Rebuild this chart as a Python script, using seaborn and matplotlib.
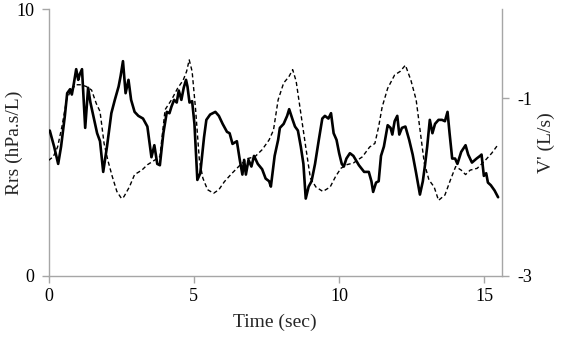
import matplotlib
matplotlib.use("Agg")
import matplotlib.pyplot as plt
import seaborn as sns
import pandas as pd

# Rrs (solid) series
rrs_time = [0.04, 0.19, 0.33, 0.43, 0.56, 0.64, 0.74, 0.80, 0.86, 0.95, 1.02, 1.07, 1.15, 1.26, 1.36,
            1.44, 1.57, 1.67, 1.77, 1.88, 2.01, 2.16, 2.28, 2.41, 2.48, 2.56, 2.65, 2.75, 2.84, 2.96,
            3.09, 3.25, 3.40, 3.49, 3.54, 3.64, 3.74, 3.83, 3.95, 4.07, 4.16, 4.23, 4.32, 4.41, 4.48,
            4.57, 4.65, 4.73, 4.78, 4.85, 4.94, 5.02, 5.12, 5.22, 5.35, 5.43, 5.56, 5.74, 5.86, 5.99,
            6.14, 6.23, 6.33, 6.48, 6.58, 6.67, 6.73, 6.79, 6.88, 6.98, 7.07, 7.20, 7.35, 7.47, 7.59,
            7.65, 7.78, 7.90, 7.96, 8.09, 8.21, 8.28, 8.40, 8.48, 8.58, 8.68, 8.77, 8.85, 8.95, 9.05,
            9.17, 9.30, 9.42, 9.51, 9.63, 9.72, 9.81, 9.91, 10.00, 10.09, 10.16, 10.25, 10.37, 10.49,
            10.68, 10.86, 11.02, 11.11, 11.17, 11.27, 11.36, 11.44, 11.54, 11.67, 11.77, 11.83, 11.91,
            12.00, 12.07, 12.16, 12.28, 12.41, 12.53, 12.65, 12.78, 12.88, 12.96, 13.03, 13.12, 13.21,
            13.30, 13.42, 13.54, 13.64, 13.73, 13.80, 13.89, 13.99, 14.07, 14.20, 14.35, 14.44, 14.57,
            14.73, 14.85, 14.90, 14.98, 15.06, 15.12, 15.22, 15.35, 15.47]
rrs_value = [5.45, 4.85, 4.20, 4.85, 6.00, 6.85, 7.00, 6.80, 7.15, 7.75, 7.35, 7.55, 7.75, 5.55, 7.05,
             6.50, 5.85, 5.35, 5.05, 3.90, 4.85, 6.10, 6.60, 7.10, 7.50, 8.05, 6.85, 7.35, 6.60, 6.15,
             6.00, 5.90, 5.60, 4.85, 4.45, 4.90, 4.20, 4.15, 5.35, 6.15, 6.10, 6.35, 6.60, 6.50, 6.95,
             6.60, 7.05, 7.35, 7.10, 6.50, 6.55, 5.70, 3.60, 3.85, 5.20, 5.85, 6.05, 6.15, 6.00, 5.70,
             5.40, 5.35, 4.95, 5.05, 4.35, 3.80, 4.35, 3.80, 4.35, 4.10, 4.50, 4.20, 4.00, 3.65, 3.55,
             3.35, 4.50, 5.10, 5.55, 5.70, 6.00, 6.25, 5.85, 5.60, 5.45, 4.85, 4.20, 2.90, 3.35, 3.55,
             4.20, 5.10, 5.90, 6.00, 5.90, 6.10, 5.35, 5.10, 4.60, 4.20, 4.10, 4.40, 4.60, 4.50,
             4.15, 3.90, 3.90, 3.55, 3.15, 3.50, 3.55, 4.50, 4.85, 5.65, 5.55, 5.30, 5.80,
             6.00, 5.30, 5.55, 5.60, 5.10, 4.55, 3.85, 3.05, 3.55, 4.20, 4.85, 5.85, 5.35,
             5.70, 5.85, 5.85, 5.80, 6.15, 5.35, 4.40, 4.40, 4.20, 4.65, 4.90, 4.55, 4.25,
             4.40, 4.50, 4.55, 3.75, 3.85, 3.50, 3.40, 3.20, 2.95]

# V' (dashed) series
flow_time = [0.00, 0.16, 0.31, 0.46, 0.62, 0.74, 0.93, 1.11, 1.30, 1.48, 1.64, 1.77, 1.91, 2.04, 2.19,
             2.35, 2.51, 2.59, 2.78, 2.96, 3.21, 3.40, 3.64, 3.83, 4.01, 4.23, 4.44, 4.63, 4.75, 4.84,
             4.94, 5.06, 5.19, 5.31, 5.47, 5.68, 5.86, 6.05, 6.30, 6.60, 6.85, 7.10, 7.35, 7.59, 7.74,
             7.90, 8.09, 8.27, 8.40, 8.52, 8.68, 8.85, 9.01, 9.20, 9.44, 9.69, 9.88, 10.06, 10.25,
             10.49, 10.80, 11.05, 11.23, 11.36, 11.48, 11.67, 11.91, 12.10, 12.28, 12.47, 12.65, 12.80,
             12.93, 13.09, 13.27, 13.42, 13.64, 13.83, 14.01, 14.20, 14.35, 14.51, 14.75, 15.00, 15.25,
             15.43]
flow_value = [-1.70, -1.66, -1.55, -1.32, -1.02, -0.93, -0.85, -0.85, -0.87, -0.91, -1.06, -1.15, -1.51,
              -1.70, -1.88, -2.05, -2.13, -2.11, -2.00, -1.86, -1.81, -1.75, -1.70, -1.66, -1.13, -1.02,
              -0.89, -0.80, -0.70, -0.57, -0.70, -1.13, -1.70, -1.90, -2.03, -2.07, -2.03, -1.94, -1.85,
              -1.75, -1.68, -1.66, -1.58, -1.47, -1.36, -1.02, -0.83, -0.76, -0.68, -0.81, -1.17, -1.55,
              -1.90, -2.00, -2.05, -2.00, -1.88, -1.79, -1.75, -1.73, -1.66, -1.55, -1.51, -1.32, -1.10,
              -0.89, -0.74, -0.70, -0.63, -0.80, -1.02, -1.40, -1.73, -1.92, -2.00, -2.15, -2.09, -1.92,
              -1.77, -1.81, -1.86, -1.81, -1.79, -1.71, -1.62, -1.54]

x_ticks = [0, 5, 10, 15]
left_ticks = [0, 10]
right_ticks = [-3, -1]

sns.set_style("white")
plt.rcParams['font.family'] = ['Liberation Serif', 'DejaVu Serif']
plt.rcParams['axes.unicode_minus'] = False

fig = plt.figure(figsize=(5.61, 3.39), dpi=100)
ax = fig.add_axes([0.0866, 0.186, 0.808, 0.787])
ax2 = ax.twinx()

df_r = pd.DataFrame({"t": rrs_time, "v": rrs_value})
df_f = pd.DataFrame({"t": flow_time, "v": flow_value})

sns.lineplot(data=df_r, x="t", y="v", ax=ax, color="black", linewidth=1.9, zorder=3)
sns.lineplot(data=df_f, x="t", y="v", ax=ax2, color="black", linewidth=1.0,
             linestyle=(0, (3.0, 2.0)), zorder=2)

ax.set_xlim(0, 15.6)
ax.set_ylim(0, 10)
ax2.set_ylim(-3, 0)
ax.set_xticks(x_ticks)
ax.set_yticks(left_ticks)
ax2.set_yticks(right_ticks)

spine_col = "#a6a6a6"
for a in (ax, ax2):
    for s in a.spines.values():
        s.set_color(spine_col)
        s.set_linewidth(1.0)
    a.spines["top"].set_visible(False)
    a.tick_params(colors=spine_col, labelcolor="black", labelsize=13, length=5, width=1.0,
                  direction="out")
ax.spines["right"].set_visible(False)
ax2.spines["left"].set_visible(False)
ax2.spines["bottom"].set_visible(False)
ax.tick_params(axis="x", bottom=True, pad=4)
ax.tick_params(axis="y", left=True, pad=5)
ax2.tick_params(axis="y", right=True, pad=6)

ax.set_xlabel("Time (sec)", fontsize=14, labelpad=6)
ax.set_ylabel("Rrs (hPa.s/L)", fontsize=14)
ax.yaxis.set_label_coords(-0.057, 0.5)
ax2.set_ylabel("V' (L/s)", fontsize=14, labelpad=4)
ax2.grid(False)
ax.grid(False)

fig.savefig("out.png", dpi=100)
